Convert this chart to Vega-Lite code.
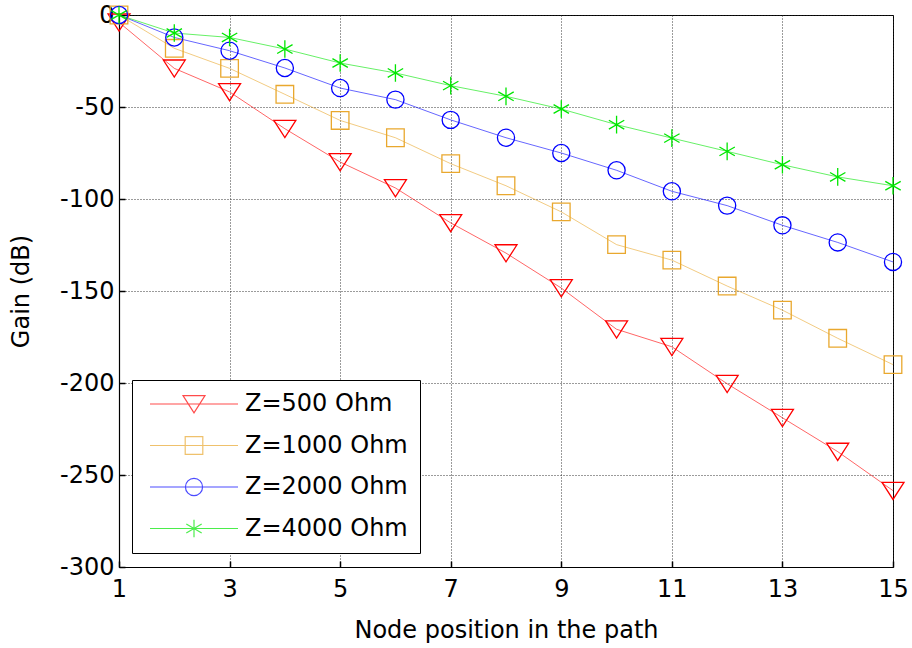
{
  "$schema": "https://vega.github.io/schema/vega-lite/v6.json",
  "width": 774,
  "height": 552,
  "autosize": {"type": "none"},
  "padding": {"left": 119, "top": 15, "right": 19, "bottom": 81},
  "background": "white",
  "config": {
    "font": "DejaVu Sans",
    "view": {"stroke": "black", "strokeWidth": 1},
    "axis": {
      "labelFont": "DejaVu Sans", "labelFontSize": 24, "labelColor": "black", "labelFlush": false,
      "titleFont": "DejaVu Sans", "titleFontSize": 24, "titleFontWeight": "normal", "titleColor": "black",
      "gridColor": "#222", "gridDash": [1, 2], "gridOpacity": 0.9, "gridWidth": 1,
      "domainColor": "black", "domainWidth": 1.2, "tickColor": "black", "tickSize": -6, "tickWidth": 1.5,
      "labelExpr": "replace(datum.label, '\u2212', '-')"
    },
    "legend": {
      "orient": "none", "legendX": 13, "legendY": 365,
      "strokeColor": "black", "fillColor": "white", "padding": 12, "cornerRadius": 0,
      "symbolSize": 484, "symbolOffset": 38, "labelOffset": 39, "labelLimit": 400,
      "labelFont": "DejaVu Sans", "labelFontSize": 24, "labelColor": "black",
      "rowPadding": 17.5, "symbolStrokeWidth": 1.2, "symbolFillColor": "transparent"
    }
  },
  "data": {"values": [
    {"n":1,"s":"Z=500 Ohm","g":-4},{"n":2,"s":"Z=500 Ohm","g":-29},{"n":3,"s":"Z=500 Ohm","g":-41.8},{"n":4,"s":"Z=500 Ohm","g":-61.8},{"n":5,"s":"Z=500 Ohm","g":-79.9},{"n":6,"s":"Z=500 Ohm","g":-94},{"n":7,"s":"Z=500 Ohm","g":-113},{"n":8,"s":"Z=500 Ohm","g":-129.4},{"n":9,"s":"Z=500 Ohm","g":-148.4},{"n":10,"s":"Z=500 Ohm","g":-170.8},{"n":11,"s":"Z=500 Ohm","g":-180.3},{"n":12,"s":"Z=500 Ohm","g":-200.4},{"n":13,"s":"Z=500 Ohm","g":-218.9},{"n":14,"s":"Z=500 Ohm","g":-237.3},{"n":15,"s":"Z=500 Ohm","g":-258.5},
    {"n":1,"s":"Z=1000 Ohm","g":0},{"n":2,"s":"Z=1000 Ohm","g":-18.1},{"n":3,"s":"Z=1000 Ohm","g":-29},{"n":4,"s":"Z=1000 Ohm","g":-43.1},{"n":5,"s":"Z=1000 Ohm","g":-57.3},{"n":6,"s":"Z=1000 Ohm","g":-66.7},{"n":7,"s":"Z=1000 Ohm","g":-80.8},{"n":8,"s":"Z=1000 Ohm","g":-92.8},{"n":9,"s":"Z=1000 Ohm","g":-107},{"n":10,"s":"Z=1000 Ohm","g":-124.8},{"n":11,"s":"Z=1000 Ohm","g":-133.2},{"n":12,"s":"Z=1000 Ohm","g":-147.3},{"n":13,"s":"Z=1000 Ohm","g":-160.4},{"n":14,"s":"Z=1000 Ohm","g":-175.7},{"n":15,"s":"Z=1000 Ohm","g":-190},
    {"n":1,"s":"Z=2000 Ohm","g":0},{"n":2,"s":"Z=2000 Ohm","g":-12.2},{"n":3,"s":"Z=2000 Ohm","g":-19.4},{"n":4,"s":"Z=2000 Ohm","g":-28.8},{"n":5,"s":"Z=2000 Ohm","g":-39.7},{"n":6,"s":"Z=2000 Ohm","g":-46},{"n":7,"s":"Z=2000 Ohm","g":-57},{"n":8,"s":"Z=2000 Ohm","g":-66.7},{"n":9,"s":"Z=2000 Ohm","g":-75},{"n":10,"s":"Z=2000 Ohm","g":-84.4},{"n":11,"s":"Z=2000 Ohm","g":-95.8},{"n":12,"s":"Z=2000 Ohm","g":-103.6},{"n":13,"s":"Z=2000 Ohm","g":-114.3},{"n":14,"s":"Z=2000 Ohm","g":-123.6},{"n":15,"s":"Z=2000 Ohm","g":-134.2},
    {"n":1,"s":"Z=4000 Ohm","g":0},{"n":2,"s":"Z=4000 Ohm","g":-9.8},{"n":3,"s":"Z=4000 Ohm","g":-12.2},{"n":4,"s":"Z=4000 Ohm","g":-18.5},{"n":5,"s":"Z=4000 Ohm","g":-26.1},{"n":6,"s":"Z=4000 Ohm","g":-31.5},{"n":7,"s":"Z=4000 Ohm","g":-38.4},{"n":8,"s":"Z=4000 Ohm","g":-44.2},{"n":9,"s":"Z=4000 Ohm","g":-51.1},{"n":10,"s":"Z=4000 Ohm","g":-59.6},{"n":11,"s":"Z=4000 Ohm","g":-66.9},{"n":12,"s":"Z=4000 Ohm","g":-74.1},{"n":13,"s":"Z=4000 Ohm","g":-81.4},{"n":14,"s":"Z=4000 Ohm","g":-88},{"n":15,"s":"Z=4000 Ohm","g":-92.8}
  ]},
  "encoding": {
    "x": {"field": "n", "type": "quantitative",
      "scale": {"domain": [1, 15], "nice": false, "zero": false},
      "axis": {"values": [1, 3, 5, 7, 9, 11, 13, 15], "title": "Node position in the path", "labelPadding": 16, "titlePadding": 17}},
    "y": {"field": "g", "type": "quantitative",
      "scale": {"domain": [-300, 0], "nice": false, "zero": false},
      "axis": {"values": [-300, -250, -200, -150, -100, -50, 0], "title": "Gain (dB)", "labelPadding": 11, "titlePadding": 26}}
  },
  "layer": [
    {
      "mark": {"type": "line", "strokeWidth": 1, "opacity": 0.6},
      "encoding": {
        "color": {"field": "s", "type": "nominal",
          "scale": {"domain": ["Z=500 Ohm", "Z=1000 Ohm", "Z=2000 Ohm", "Z=4000 Ohm"], "range": ["#FF0000", "#E9A82E", "#0000FF", "#00E600"]},
          "legend": null}
      }
    },
    {
      "mark": {"type": "point", "filled": false, "size": 484, "strokeWidth": 1.3, "opacity": 1},
      "encoding": {
        "color": {"field": "s", "type": "nominal",
          "scale": {"domain": ["Z=500 Ohm", "Z=1000 Ohm", "Z=2000 Ohm", "Z=4000 Ohm"], "range": ["#FF0000", "#E9A82E", "#0000FF", "#00E600"]},
          "legend": null},
        "shape": {"field": "s", "type": "nominal",
          "scale": {"domain": ["Z=500 Ohm", "Z=1000 Ohm", "Z=2000 Ohm", "Z=4000 Ohm"],
            "range": [
              "M-1,-0.76L1,-0.76L0,0.8Z",
              "M-0.8,-0.8H0.8V0.8H-0.8Z",
              "M0.78,0A0.78,0.78 0 1,1 -0.78,0A0.78,0.78 0 1,1 0.78,0Z",
              "M0,-0.8V0.8M-0.7,-0.4L0.7,0.4M-0.7,0.4L0.7,-0.4"
            ]},
          "legend": null}
      }
    },
    {
      "transform": [{"filter": "datum.n > 100"}],
      "mark": {"type": "point", "filled": false, "size": 484, "strokeWidth": 1.3},
      "encoding": {
        "color": {"field": "s", "type": "nominal",
          "scale": {"domain": ["Z=500 Ohm", "Z=1000 Ohm", "Z=2000 Ohm", "Z=4000 Ohm"], "range": ["#FF0000", "#E9A82E", "#0000FF", "#00E600"]},
          "legend": {"title": null}},
        "shape": {"field": "s", "type": "nominal",
          "scale": {"domain": ["Z=500 Ohm", "Z=1000 Ohm", "Z=2000 Ohm", "Z=4000 Ohm"],
            "range": [
              "M-4,0H4M-1,-0.76L1,-0.76L0,0.8Z",
              "M-4,0H4M-0.8,-0.8H0.8V0.8H-0.8Z",
              "M-4,0H4M0.78,0A0.78,0.78 0 1,1 -0.78,0A0.78,0.78 0 1,1 0.78,0Z",
              "M-4,0H4M0,-0.8V0.8M-0.7,-0.4L0.7,0.4M-0.7,0.4L0.7,-0.4"
            ]},
          "legend": {"title": null}}
      }
    }
  ],
  "resolve": {"scale": {"shape": "independent", "color": "independent"}}
}
